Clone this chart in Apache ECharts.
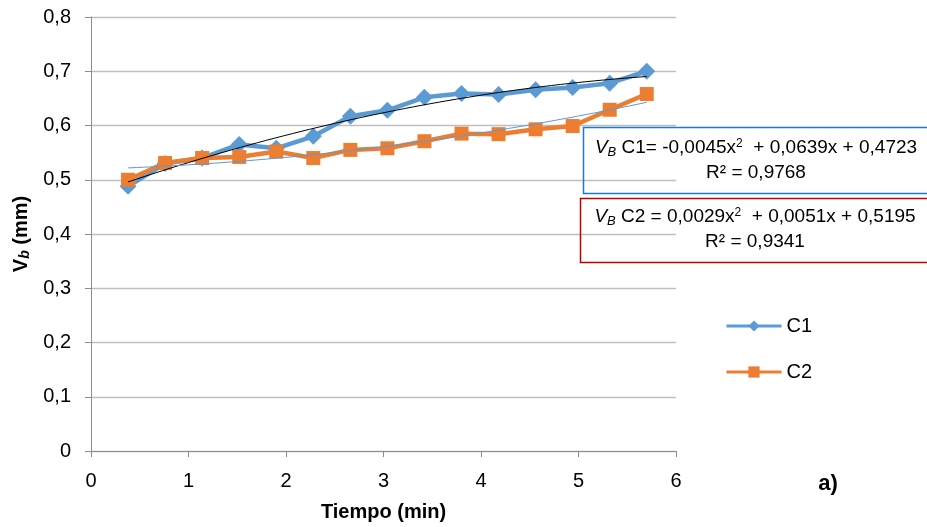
<!DOCTYPE html>
<html>
<head>
<meta charset="utf-8">
<script src="https://cdn.jsdelivr.net/npm/echarts@6/dist/echarts.min.js"></script>
<style>
  html, body { margin: 0; padding: 0; background: #fff; }
  #chart { width: 927px; height: 527px; }
</style>
</head>
<body>
<div id="chart"></div>
<script>
// Tool-wear measurements (Vb, mm) against cutting time (min)
const tiempo = [0.38, 0.76, 1.14, 1.52, 1.90, 2.28, 2.66, 3.04, 3.42, 3.80, 4.18, 4.56, 4.94, 5.32, 5.70];
const vbC1 = [0.488, 0.530, 0.540, 0.565, 0.558, 0.580, 0.617, 0.628, 0.652, 0.659, 0.657, 0.666, 0.670, 0.678, 0.700];
const vbC2 = [0.500, 0.531, 0.540, 0.542, 0.552, 0.540, 0.555, 0.558, 0.571, 0.585, 0.584, 0.593, 0.599, 0.629, 0.658];

// Quadratic fits: a*x^2 + b*x + c
const fitC1 = [-0.0045, 0.0639, 0.4723];
const fitC2 = [0.0029, 0.0051, 0.5195];
const r2C1 = '0,9768';
const r2C2 = '0,9341';

const xTicks = [0, 1, 2, 3, 4, 5, 6];
const yTicks = [0, 0.1, 0.2, 0.3, 0.4, 0.5, 0.6, 0.7, 0.8];

const FONT = '"Liberation Sans Narrow", "Liberation Sans", Arial, sans-serif';

function fitCurve(coef) {
  const pts = [];
  const x0 = tiempo[0], x1 = tiempo[tiempo.length - 1];
  const n = 60;
  for (let i = 0; i <= n; i++) {
    const x = x0 + (x1 - x0) * i / n;
    pts.push([x, coef[0] * x * x + coef[1] * x + coef[2]]);
  }
  return pts;
}

function fmtCoef(v) {
  return Math.abs(v).toFixed(4).replace('.', ',');
}

const pairs = (xs, ys) => xs.map((x, i) => [x, ys[i]]);

const chart = echarts.init(document.getElementById('chart'), null, { renderer: 'canvas' });

const eqRich = {
  i: { fontFamily: FONT, fontSize: 19, fontStyle: 'italic', color: '#000' },
  sb: { fontFamily: FONT, fontSize: 13, fontStyle: 'italic', color: '#000', verticalAlign: 'bottom', padding: [8, 0, 0, 0] },
  n: { fontFamily: FONT, fontSize: 19, color: '#000' },
  sp: { fontFamily: FONT, fontSize: 12, color: '#000', verticalAlign: 'top', padding: [0, 0, 8, 0] }
};

function eqText(name, coef, sep) {
  const sa = coef[0] < 0 ? '-' : '';
  return '{i|V}{sb|B}{n| ' + name + sep + sa + fmtCoef(coef[0]) + 'x}{sp|2}{n|  + ' +
    fmtCoef(coef[1]) + 'x + ' + fmtCoef(coef[2]) + '}';
}

chart.setOption({
  backgroundColor: '#fff',
  animation: false,
  grid: { left: 91, right: 251, top: 17, bottom: 76, containLabel: false, outerBoundsMode: 'none' },
  legend: {
    data: ['C1', 'C2'],
    orient: 'vertical',
    left: 720,
    top: 311,
    itemWidth: 55,
    itemHeight: 14,
    itemGap: 26,
    lineStyle: { width: 3 },
    textStyle: { fontFamily: FONT, fontSize: 20, color: '#000' }
  },
  xAxis: {
    type: 'value',
    min: 0, max: 6, interval: 1,
    name: 'Tiempo (min)',
    nameLocation: 'middle',
    nameGap: 51,
    nameTextStyle: { fontFamily: FONT, fontSize: 20, fontWeight: 'bold', color: '#000' },
    axisLine: { show: true, lineStyle: { color: '#8c8c8c', width: 1 } },
    axisTick: { show: true, length: 6, lineStyle: { color: '#8c8c8c' } },
    axisLabel: { fontFamily: FONT, fontSize: 20, color: '#000', margin: 20 },
    splitLine: { show: false }
  },
  yAxis: {
    type: 'value',
    min: 0, max: 0.8, interval: 0.1,
    name: '{b|V}{s|b}{b| (mm)}',
    nameLocation: 'middle',
    nameGap: 58,
    nameTextStyle: {
      rich: {
        b: { fontFamily: FONT, fontSize: 20, fontWeight: 'bold', color: '#000' },
        s: { fontFamily: FONT, fontSize: 14, fontWeight: 'bold', fontStyle: 'italic', color: '#000', verticalAlign: 'bottom', padding: [7, 0, 0, 0] }
      }
    },
    axisLine: { show: true, lineStyle: { color: '#8c8c8c', width: 1 } },
    axisTick: { show: true, length: 6, lineStyle: { color: '#8c8c8c' } },
    axisLabel: {
      fontFamily: FONT, fontSize: 20, color: '#000', margin: 20,
      formatter: v => (Math.round(v * 10) === 0 ? '0' : v.toFixed(1).replace('.', ','))
    },
    splitLine: { show: true, lineStyle: { color: '#bfbfbf', width: 1.3 } }
  },
  series: [
    {
      name: 'C1',
      type: 'line',
      data: pairs(tiempo, vbC1),
      symbol: 'diamond',
      symbolSize: 17,
      lineStyle: { color: '#5b9bd5', width: 4.5 },
      itemStyle: { color: '#5b9bd5' },
      z: 3
    },
    {
      name: 'C2',
      type: 'line',
      data: pairs(tiempo, vbC2),
      symbol: 'rect',
      symbolSize: 14,
      lineStyle: { color: '#ed7d31', width: 4.5 },
      itemStyle: { color: '#ed7d31' },
      z: 4
    },
    {
      name: 'Tendencia C1',
      type: 'line',
      data: fitCurve(fitC1),
      showSymbol: false,
      lineStyle: { color: '#000', width: 1 },
      z: 6
    },
    {
      name: 'Tendencia C2',
      type: 'line',
      data: fitCurve(fitC2),
      showSymbol: false,
      lineStyle: { color: '#5b9bd5', width: 1 },
      z: 6
    }
  ],
  graphic: [
    {
      type: 'rect',
      shape: { x: 583.5, y: 127.5, width: 350, height: 66 },
      style: { fill: null, stroke: '#1f78c8', lineWidth: 1.5 },
      z: 10
    },
    {
      type: 'text',
      x: 756, y: 148,
      style: { text: eqText('C1', fitC1, '= '), rich: eqRich, align: 'center', verticalAlign: 'middle' },
      z: 11
    },
    {
      type: 'text',
      x: 756, y: 173,
      style: { text: 'R² = ' + r2C1, fontFamily: FONT, fontSize: 19, fill: '#000', align: 'center', verticalAlign: 'middle' },
      z: 11
    },
    {
      type: 'rect',
      shape: { x: 580.5, y: 198.5, width: 352, height: 64 },
      style: { fill: null, stroke: '#c00000', lineWidth: 1.5 },
      z: 10
    },
    {
      type: 'text',
      x: 755, y: 217,
      style: { text: eqText('C2', fitC2, ' = '), rich: eqRich, align: 'center', verticalAlign: 'middle' },
      z: 11
    },
    {
      type: 'text',
      x: 755, y: 242,
      style: { text: 'R² = ' + r2C2, fontFamily: FONT, fontSize: 19, fill: '#000', align: 'center', verticalAlign: 'middle' },
      z: 11
    },
    {
      type: 'text',
      x: 828, y: 484,
      style: { text: 'a)', fontFamily: FONT, fontSize: 22, fontWeight: 'bold', fill: '#000', align: 'center', verticalAlign: 'middle' },
      z: 11
    }
  ]
});
</script>
</body>
</html>
